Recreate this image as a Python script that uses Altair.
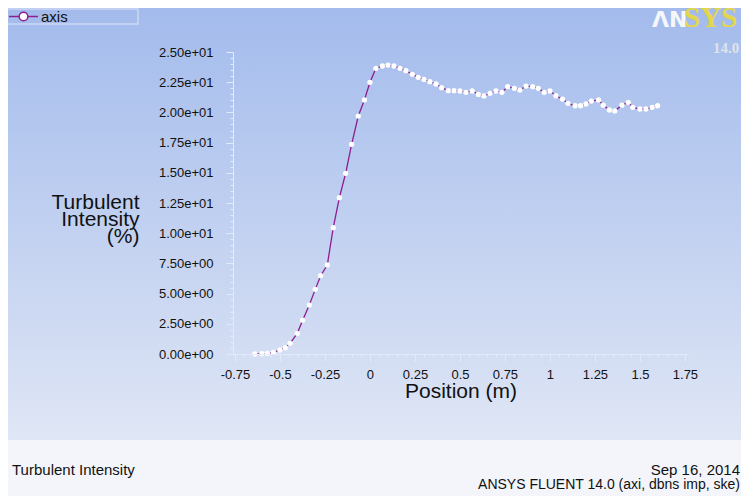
import altair as alt
import pandas as pd

# ---- data ----
position_m = [
    -0.64, -0.60, -0.57, -0.537, -0.50, -0.47, -0.444, -0.404, -0.374, -0.337,
    -0.304, -0.274, -0.237, -0.204, -0.17, -0.135, -0.102, -0.065, -0.031, 0.0,
    0.033, 0.069, 0.10, 0.133, 0.167, 0.20, 0.235, 0.268, 0.30, 0.333,
    0.367, 0.398, 0.435, 0.467, 0.50, 0.533, 0.568, 0.602, 0.633, 0.667,
    0.70, 0.733, 0.765, 0.802, 0.833, 0.867, 0.904, 0.935, 0.968, 1.0,
    1.033, 1.07, 1.10, 1.14, 1.17, 1.20, 1.23, 1.27, 1.296, 1.33,
    1.36, 1.40, 1.435, 1.46, 1.50, 1.533, 1.568, 1.598,
]
turb_intensity = [
    0.0, 0.02, 0.05, 0.14, 0.33, 0.52, 0.88, 1.71, 2.8, 4.05,
    5.35, 6.48, 7.37, 10.46, 12.94, 14.96, 17.36, 19.7, 21.03, 22.49,
    23.65, 23.84, 23.92, 23.84, 23.65, 23.45, 23.15, 22.9, 22.73, 22.54,
    22.35, 22.05, 21.8, 21.8, 21.77, 21.66, 21.77, 21.49, 21.36, 21.58,
    21.77, 21.66, 22.13, 21.99, 21.85, 22.18, 22.13, 21.99, 21.66, 21.77,
    21.38, 21.1, 20.75, 20.55, 20.55, 20.7, 20.94, 21.03, 20.6, 20.2,
    20.12, 20.6, 20.83, 20.42, 20.28, 20.28, 20.42, 20.55,
]
series_name = ["axis"]

x_ticks = [round(-0.75 + 0.05 * k, 2) for k in range(51)]      # major every 0.25
y_ticks = [round(0.5 * k, 1) for k in range(51)]                # major every 2.5

df = pd.DataFrame({"pos": position_m, "ti": turb_intensity,
                   "series": series_name * len(position_m)})

FONT = "Liberation Sans"
LINE = "#8e1e8e"
AX = "#e4ebf8"

x_major = "abs(datum.value*4 - round(datum.value*4)) < 1e-6"
y_major = "abs(datum.value/2.5 - round(datum.value/2.5)) < 1e-6"

x_axis = alt.Axis(
    values=x_ticks, zindex=1,
    labelExpr=f"{x_major} ? (datum.value < 0 ? '-' : '') + format(abs(datum.value), '~g') : ''",
    labelOverlap=False, labelFlush=False, labelBound=False,
    labelFont=FONT, labelFontSize=13, labelColor="#111", labelPadding=7,
    tickSize={"condition": {"test": x_major, "value": 7}, "value": 3},
    tickColor=AX, domainColor=AX, grid=False,
    title="Position (m)", titleFont=FONT, titleFontSize=21, titleFontWeight="normal",
    titleColor="#111", titleBaseline="alphabetic", titleY=43,
)
y_axis = alt.Axis(
    values=y_ticks, zindex=1,
    labelExpr=(f"{y_major} ? (datum.value >= 10 ? format(datum.value/10, '.2f') + 'e+01' "
               ": format(datum.value, '.2f') + 'e+00') : ''"),
    labelOverlap=False, labelFlush=False, labelBound=False,
    labelFont=FONT, labelFontSize=13, labelColor="#111", labelPadding=13,
    tickSize={"condition": {"test": y_major, "value": 7}, "value": 3},
    tickColor=AX, domainColor=AX, grid=False,
    title=["Turbulent", "Intensity", "(%)"], titleFont=FONT, titleFontSize=21,
    titleFontWeight="normal", titleColor="#111", titleAngle=0, titleAlign="right",
    titleBaseline="alphabetic", titleX=-94, titleY=156, titleLineHeight=17,
)

xs = alt.Scale(domain=[-0.761, 1.767], nice=False, zero=False)
ys = alt.Scale(domain=[0, 25], nice=False)

one = pd.DataFrame({"k": [0]})

background = alt.Chart(one).mark_rect(
    color={"gradient": "linear", "x1": 0, "y1": 0, "x2": 0, "y2": 1,
           "stops": [{"offset": 0, "color": "#a3bbec"},
                     {"offset": 1, "color": "#dfe6f5"}]}
).encode(x=alt.value(-225), x2=alt.value(508), y=alt.value(-44), y2=alt.value(388))

legend_box = alt.Chart(one).mark_rect(
    fill="transparent", stroke="#cbd8f4", strokeWidth=1.5
).encode(x=alt.value(-226), x2=alt.value(-95), y=alt.value(-43), y2=alt.value(-28))

line = alt.Chart(df).mark_line(strokeWidth=1.3).encode(
    x=alt.X("pos:Q", scale=xs, axis=x_axis),
    y=alt.Y("ti:Q", scale=ys, axis=y_axis),
    color=alt.Color("series:N", scale=alt.Scale(range=[LINE]),
                    legend=alt.Legend(
                        orient="none", legendX=-225, legendY=-51, title=None, padding=0,
                        symbolType="M-1,0H-0.3M0.3,0H1M-0.3,0A0.3,0.3 0 1,0 0.3,0A0.3,0.3 0 1,0 -0.3,0Z",
                        symbolSize=841, symbolStrokeWidth=1.5, symbolFillColor="white",
                        labelFont=FONT, labelFontSize=15, labelColor="#111", labelOffset=2)),
)

points = alt.Chart(df).mark_circle(color="white", size=28, opacity=1).encode(
    x=alt.X("pos:Q", scale=xs, axis=x_axis),
    y=alt.Y("ti:Q", scale=ys, axis=y_axis),
)


def label(text, x, y, size, color="#111", align="left", font=FONT, weight="normal"):
    return alt.Chart(pd.DataFrame({"t": [text]})).mark_text(
        align=align, baseline="alphabetic", fontSize=size, font=font,
        color=color, fontWeight=weight
    ).encode(x=alt.value(x), y=alt.value(y), text="t:N")


texts = [
    label("Turbulent Intensity", -221, 423, 15),
    label("Sep 16, 2014", 507, 423, 15, align="right"),
    label("ANSYS FLUENT 14.0 (axi, dbns imp, ske)", 507, 437, 14, align="right"),
    label("ΛN", 419, -25, 22, color="#f5f7fc", font="DejaVu Sans", weight="bold"),
    label("SYS", 451, -25, 29, color="#e4d64c", font="Liberation Serif", weight="bold"),
    label("14.0", 480, 1, 15, color="#dfe3ea", font="Liberation Serif", weight="bold"),
]

chart = alt.layer(background, legend_box, line, points, *texts).properties(
    width=455, height=302,
    padding={"left": 225, "top": 44, "right": 53, "bottom": 142},
    autosize=alt.AutoSizeParams(type="none"),
    background="#f3f5fa",
).configure_view(stroke=None)

chart.save("out.html", embed_options={"renderer": "svg", "actions": False})
